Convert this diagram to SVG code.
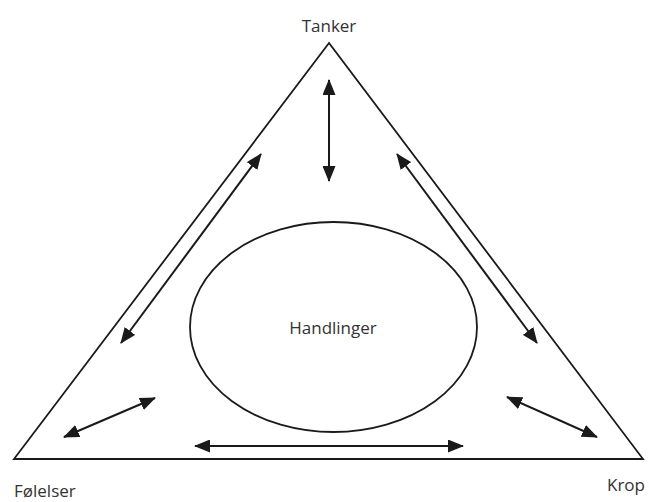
<svg xmlns="http://www.w3.org/2000/svg" width="649" height="502" viewBox="0 0 649 502">
<style>
.shape{fill:none;stroke:#1a1a1a;stroke-width:1.8}
.conn{fill:none;stroke:#1a1a1a;stroke-width:2}
.lbl{font-family:"Open Sans","Liberation Sans",sans-serif;font-size:17px;fill:#333}
</style>
<defs>
<marker id="ah" viewBox="0 0 16 13" refX="15" refY="6.5" markerWidth="16" markerHeight="13" markerUnits="userSpaceOnUse" orient="auto-start-reverse">
<path d="M0,0 L16,6.5 L0,13 Z" fill="#1a1a1a"/>
</marker>
</defs>
<rect width="649" height="502" fill="#fff"/>
<g id="triangle"><path class="shape" d="M329,43 L14,459 L643,459 Z"/></g>
<g id="tanker"><text class="lbl" x="329" y="32" text-anchor="middle">Tanker</text></g>
<g id="folelser"><text class="lbl" x="14" y="497">Følelser</text></g>
<g id="krop"><text class="lbl" x="645" y="491" text-anchor="end">Krop</text></g>
<g id="handlinger">
<ellipse class="shape" cx="333.5" cy="327" rx="143.5" ry="105"/>
<text class="lbl" x="333" y="334" text-anchor="middle">Handlinger</text>
</g>
<g id="connectors">
<line class="conn" x1="329" y1="80" x2="329" y2="181" marker-start="url(#ah)" marker-end="url(#ah)"/>
<line class="conn" x1="261" y1="154" x2="121" y2="343" marker-start="url(#ah)" marker-end="url(#ah)"/>
<line class="conn" x1="397" y1="154" x2="537" y2="343" marker-start="url(#ah)" marker-end="url(#ah)"/>
<line class="conn" x1="195" y1="446" x2="463" y2="446" marker-start="url(#ah)" marker-end="url(#ah)"/>
<line class="conn" x1="64" y1="437" x2="155" y2="398" marker-start="url(#ah)" marker-end="url(#ah)"/>
<line class="conn" x1="507" y1="397" x2="597" y2="437" marker-start="url(#ah)" marker-end="url(#ah)"/>
</g>
</svg>
